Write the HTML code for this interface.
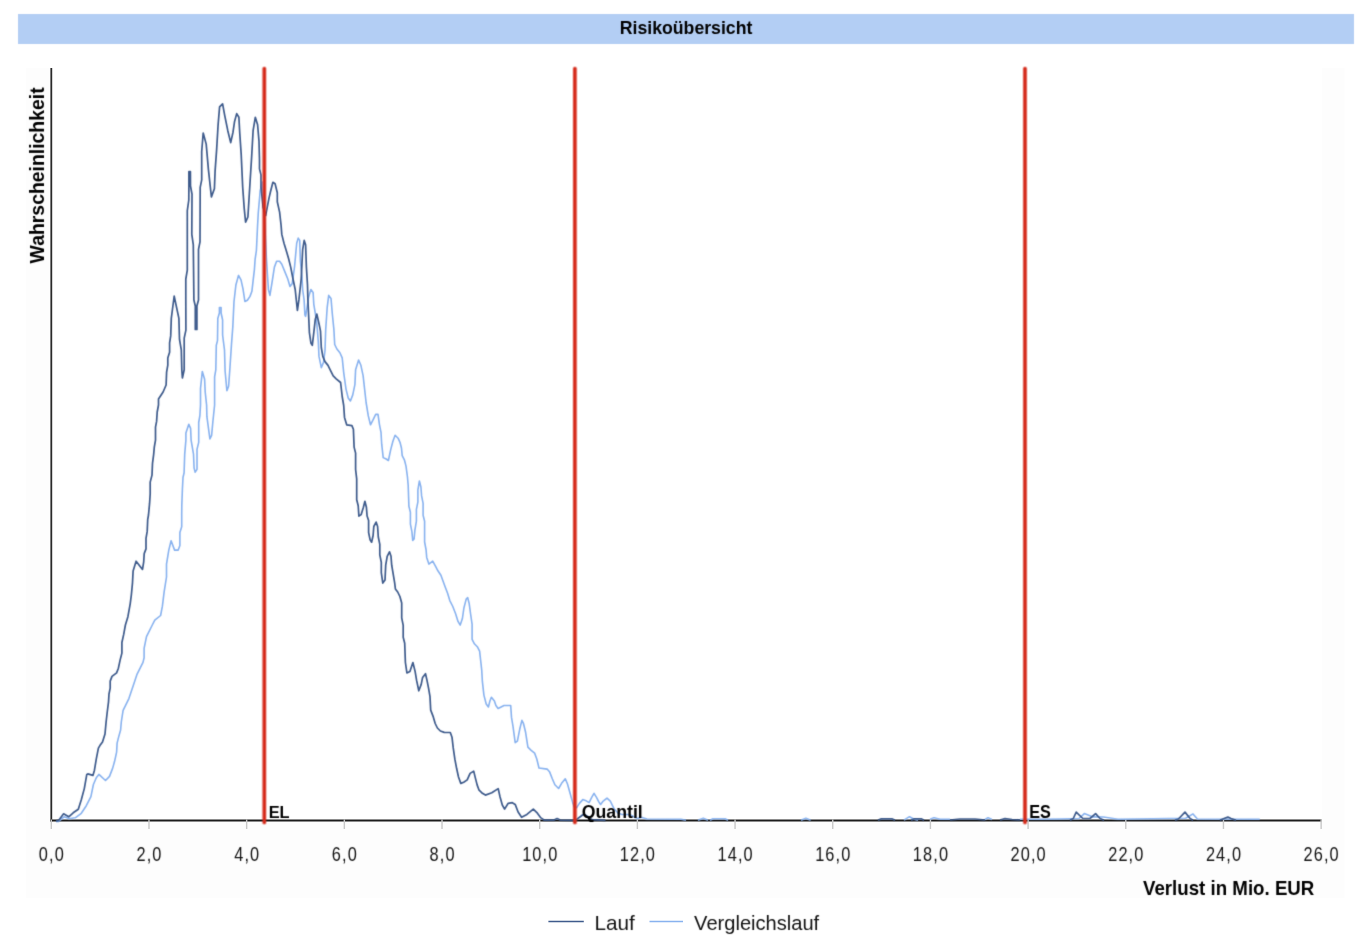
<!DOCTYPE html>
<html><head><meta charset="utf-8"><title>Risikoübersicht</title>
<style>
html,body{margin:0;padding:0;background:#fff;}
body{width:1364px;height:941px;overflow:hidden;font-family:"Liberation Sans",sans-serif;}
svg{display:block;}
svg text{font-family:"Liberation Sans",sans-serif;}
</style></head><body>
<svg width="1364" height="941" viewBox="0 0 1364 941">
<defs><filter id="soft" filterUnits="userSpaceOnUse" x="0" y="0" width="1364" height="941" color-interpolation-filters="sRGB"><feConvolveMatrix order="3" kernelMatrix="1 2 1 2 4 2 1 2 1" divisor="16" edgeMode="none"/></filter>
<filter id="mild" filterUnits="userSpaceOnUse" x="0" y="0" width="1364" height="941" color-interpolation-filters="sRGB"><feConvolveMatrix order="3" kernelMatrix="1 6 1 6 36 6 1 6 1" divisor="64" edgeMode="none"/></filter></defs>
<g filter="url(#mild)">
<rect x="0" y="0" width="1364" height="941" fill="#fff"/>
<rect x="26.2" y="68" width="1318.4" height="830" fill="#fdfdfd"/>
<rect x="51.3" y="68" width="1271" height="753" fill="#fff"/>
<rect x="18" y="14" width="1336" height="30" fill="#b3cef4"/>
<text x="619.7" y="33.8" font-size="17.7" font-weight="bold" fill="#000">Risikoübersicht</text>
<text transform="translate(44,263.4) rotate(-90)" font-size="19.4" font-weight="bold" fill="#000">Wahrscheinlichkeit</text>
<text transform="translate(51.85,861.4) scale(0.86,1.075)" text-anchor="middle" font-size="19" letter-spacing="1.3" fill="#111">0,0</text>
<text transform="translate(149.53,861.4) scale(0.86,1.075)" text-anchor="middle" font-size="19" letter-spacing="1.3" fill="#111">2,0</text>
<text transform="translate(247.21,861.4) scale(0.86,1.075)" text-anchor="middle" font-size="19" letter-spacing="1.3" fill="#111">4,0</text>
<text transform="translate(344.89,861.4) scale(0.86,1.075)" text-anchor="middle" font-size="19" letter-spacing="1.3" fill="#111">6,0</text>
<text transform="translate(442.57,861.4) scale(0.86,1.075)" text-anchor="middle" font-size="19" letter-spacing="1.3" fill="#111">8,0</text>
<text transform="translate(540.25,861.4) scale(0.86,1.075)" text-anchor="middle" font-size="19" letter-spacing="1.3" fill="#111">10,0</text>
<text transform="translate(637.93,861.4) scale(0.86,1.075)" text-anchor="middle" font-size="19" letter-spacing="1.3" fill="#111">12,0</text>
<text transform="translate(735.61,861.4) scale(0.86,1.075)" text-anchor="middle" font-size="19" letter-spacing="1.3" fill="#111">14,0</text>
<text transform="translate(833.29,861.4) scale(0.86,1.075)" text-anchor="middle" font-size="19" letter-spacing="1.3" fill="#111">16,0</text>
<text transform="translate(930.97,861.4) scale(0.86,1.075)" text-anchor="middle" font-size="19" letter-spacing="1.3" fill="#111">18,0</text>
<text transform="translate(1028.65,861.4) scale(0.86,1.075)" text-anchor="middle" font-size="19" letter-spacing="1.3" fill="#111">20,0</text>
<text transform="translate(1126.33,861.4) scale(0.86,1.075)" text-anchor="middle" font-size="19" letter-spacing="1.3" fill="#111">22,0</text>
<text transform="translate(1224.01,861.4) scale(0.86,1.075)" text-anchor="middle" font-size="19" letter-spacing="1.3" fill="#111">24,0</text>
<text transform="translate(1321.69,861.4) scale(0.86,1.075)" text-anchor="middle" font-size="19" letter-spacing="1.3" fill="#111">26,0</text>
<text transform="translate(1143,894.6) scale(1,1.08)" font-size="18.7" font-weight="bold" fill="#000">Verlust in Mio. EUR</text>
<text x="594.4" y="930.3" font-size="20.7" fill="#111">Lauf</text>
<text x="694.1" y="929.9" font-size="20.1" fill="#111">Vergleichslauf</text>
</g>
<line x1="51.3" y1="68" x2="51.3" y2="821.5" stroke="#2a2a2a" stroke-width="1.8"/>
<line x1="50.4" y1="820.5" x2="1321.6" y2="820.5" stroke="#1c1c1c" stroke-width="2"/>
<line x1="51.30" y1="819.5" x2="51.30" y2="829" stroke="#c8c8c8" stroke-width="1.4"/>
<line x1="148.98" y1="819.5" x2="148.98" y2="829" stroke="#c8c8c8" stroke-width="1.4"/>
<line x1="246.66" y1="819.5" x2="246.66" y2="829" stroke="#c8c8c8" stroke-width="1.4"/>
<line x1="344.34" y1="819.5" x2="344.34" y2="829" stroke="#c8c8c8" stroke-width="1.4"/>
<line x1="442.02" y1="819.5" x2="442.02" y2="829" stroke="#c8c8c8" stroke-width="1.4"/>
<line x1="539.70" y1="819.5" x2="539.70" y2="829" stroke="#c8c8c8" stroke-width="1.4"/>
<line x1="637.38" y1="819.5" x2="637.38" y2="829" stroke="#c8c8c8" stroke-width="1.4"/>
<line x1="735.06" y1="819.5" x2="735.06" y2="829" stroke="#c8c8c8" stroke-width="1.4"/>
<line x1="832.74" y1="819.5" x2="832.74" y2="829" stroke="#c8c8c8" stroke-width="1.4"/>
<line x1="930.42" y1="819.5" x2="930.42" y2="829" stroke="#c8c8c8" stroke-width="1.4"/>
<line x1="1028.10" y1="819.5" x2="1028.10" y2="829" stroke="#c8c8c8" stroke-width="1.4"/>
<line x1="1125.78" y1="819.5" x2="1125.78" y2="829" stroke="#c8c8c8" stroke-width="1.4"/>
<line x1="1223.46" y1="819.5" x2="1223.46" y2="829" stroke="#c8c8c8" stroke-width="1.4"/>
<line x1="1321.14" y1="819.5" x2="1321.14" y2="829" stroke="#c8c8c8" stroke-width="1.4"/>
<g filter="url(#mild)">
<polyline points="56.0,821.5 58.6,821.4 64.1,816.8 69.2,818.8 75.2,817.8 81.3,813.3 86.3,805.7 90.9,796.6 93.4,784.5 96.4,777.5 98.9,774.4 105.5,780.5 109.5,776.4 112.6,768.4 114.6,761.3 116.6,752.2 117.1,743.1 118.6,737.1 120.6,730.0 121.3,722.0 123.1,710.3 128.9,698.6 134.8,681.1 137.1,674.1 143.0,662.4 144.1,657.7 144.1,648.4 146.5,636.7 152.3,625.0 154.8,620.2 160.6,615.5 162.4,606.2 164.1,592.2 166.5,577.0 166.5,564.1 168.8,550.1 171.1,540.7 174.6,550.1 178.2,550.1 179.9,545.4 179.9,532.5 181.7,526.7 181.7,515.0 181.8,505.5 182.4,489.2 183.0,477.5 184.1,472.8 184.7,454.1 185.9,440.1 185.9,433.1 188.8,424.3 190.6,428.4 191.1,440.1 193.5,454.1 194.1,468.1 195.2,472.2 197.0,469.3 197.0,449.4 198.7,442.4 198.7,422.5 199.9,415.5 200.5,405.0 200.5,388.5 202.3,371.6 204.6,379.2 205.2,392.0 206.6,405.0 206.9,416.7 209.9,438.9 211.6,435.4 212.8,422.5 214.6,405.0 214.6,376.8 215.8,369.8 216.3,345.3 217.5,340.6 217.8,318.4 219.4,313.0 219.4,307.5 221.1,307.5 221.1,313.0 222.6,320.0 222.6,335.0 224.5,350.0 225.1,371.0 226.9,390.8 228.6,386.2 229.8,369.8 231.5,344.1 232.8,327.0 234.0,301.5 235.9,285.0 238.5,275.4 241.0,279.8 243.0,288.8 244.9,301.5 247.4,300.3 250.0,296.4 251.9,291.3 253.2,279.8 254.4,269.6 255.1,259.4 256.4,250.5 257.0,237.8 257.6,225.0 258.3,212.6 260.2,190.7 262.5,182.0 265.0,230.0 266.4,258.4 268.4,289.5 269.9,295.4 272.1,282.0 274.4,267.1 276.6,261.2 279.6,261.2 281.8,264.2 284.8,271.6 287.8,279.0 290.0,286.5 292.2,283.5 294.5,267.1 296.7,243.3 298.2,238.1 299.7,240.4 300.4,261.2 301.9,276.1 302.7,290.0 304.1,299.9 304.9,314.8 305.6,316.3 307.1,307.3 308.6,296.9 310.9,289.5 313.1,292.4 313.8,304.3 315.3,313.3 316.8,323.7 318.3,341.5 319.0,356.4 321.3,367.6 323.5,362.4 325.0,350.5 325.7,329.6 326.5,317.7 327.2,307.3 328.7,295.4 331.0,298.4 332.4,314.8 333.9,329.6 334.7,344.5 336.9,349.0 339.9,352.7 342.2,357.9 343.7,372.7 346.0,389.1 348.2,398.0 350.4,401.0 352.7,395.1 354.9,384.6 355.6,369.8 358.6,360.1 360.9,365.3 363.1,375.7 364.6,389.1 366.1,402.5 368.3,415.9 370.5,424.8 372.8,420.4 375.7,414.4 378.0,414.4 379.5,424.8 381.0,432.3 381.7,444.2 383.2,457.6 386.2,459.0 388.4,460.5 390.6,450.1 392.9,441.2 395.1,435.2 398.1,438.2 400.0,442.3 401.5,448.3 402.2,455.7 404.5,460.2 406.0,466.1 407.4,476.5 408.2,485.5 408.9,506.3 410.4,512.3 410.4,524.2 411.9,531.6 412.7,540.5 414.1,539.0 414.9,530.1 416.4,521.2 416.4,509.3 417.9,501.8 417.9,489.9 419.4,481.0 420.9,487.0 421.6,495.9 423.1,503.3 423.1,515.2 424.6,521.2 424.6,542.0 426.1,550.0 426.7,557.4 428.9,564.1 432.7,561.2 435.6,566.4 437.9,570.8 440.9,575.3 443.1,581.3 445.3,587.2 447.6,593.2 449.8,600.6 452.8,606.5 455.7,614.0 458.0,621.4 460.2,625.1 462.4,618.5 463.9,608.0 466.2,599.1 467.7,597.6 469.2,603.6 470.6,614.0 472.1,624.4 472.1,639.3 474.4,643.8 477.3,646.7 479.6,651.2 480.6,660.0 481.7,669.8 482.4,681.7 483.9,695.1 486.2,704.0 488.4,707.0 489.9,701.0 491.4,697.3 494.4,701.0 495.9,705.5 498.1,708.5 501.1,707.0 504.0,705.5 510.7,705.5 511.5,717.4 513.0,726.3 515.2,742.7 517.4,741.2 519.7,729.3 521.9,720.4 523.4,723.3 525.6,732.3 527.9,747.1 530.9,750.1 534.6,753.1 536.8,759.0 539.0,768.0 547.1,769.1 549.7,772.1 552.3,778.8 554.9,784.8 558.6,788.5 561.6,783.3 565.3,778.8 567.5,784.0 569.8,792.2 572.7,802.6 574.6,807.1 576.5,807.8 579.4,803.4 582.8,799.6 585.4,800.4 589.1,802.6 591.7,797.4 594.0,793.3 596.5,797.4 598.8,801.9 600.6,804.5 603.2,801.1 607.0,798.2 610.3,801.1 612.5,805.6 614.4,809.3 618.1,813.0 621.8,814.5 629.3,814.5 633.8,816.8 637.5,818.6 641.0,817.3 647.0,819.0 681.0,819.2 686.0,820.2" fill="none" stroke="#88b2ef" stroke-width="1.6" stroke-linejoin="round"/>
<polyline points="698.0,820.2 703.3,818.3 708.0,820.2" fill="none" stroke="#88b2ef" stroke-width="1.6" stroke-linejoin="round"/>
<polyline points="710.0,820.2 713.0,818.7 725.0,818.7 728.0,820.2" fill="none" stroke="#88b2ef" stroke-width="1.6" stroke-linejoin="round"/>
<polyline points="801.0,820.2 805.9,818.2 810.6,820.2" fill="none" stroke="#88b2ef" stroke-width="1.6" stroke-linejoin="round"/>
<polyline points="904.0,820.2 909.5,816.7 914.0,819.3 918.0,820.2" fill="none" stroke="#88b2ef" stroke-width="1.6" stroke-linejoin="round"/>
<polyline points="930.0,819.3 934.0,817.8 940.0,819.3 950.0,819.3" fill="none" stroke="#88b2ef" stroke-width="1.6" stroke-linejoin="round"/>
<polyline points="985.0,819.5 988.0,817.8 992.0,819.5" fill="none" stroke="#88b2ef" stroke-width="1.6" stroke-linejoin="round"/>
<polyline points="1020.0,819.3 1040.0,819.3 1060.0,819.0 1079.1,818.5 1084.3,813.6 1093.0,816.9 1103.3,817.0 1118.0,819.3 1185.7,818.2 1193.0,813.9 1197.4,819.0 1259.8,819.2" fill="none" stroke="#88b2ef" stroke-width="1.6" stroke-linejoin="round"/>
<polyline points="56.0,821.0 58.6,820.4 63.6,813.8 68.7,816.8 73.2,812.8 78.3,809.3 81.3,799.7 84.3,788.6 86.8,774.4 87.8,773.9 92.9,775.4 94.4,770.4 96.4,758.3 98.4,748.2 99.9,745.6 102.5,742.1 105.0,734.0 106.1,722.0 107.3,711.5 108.5,702.1 109.0,694.0 110.2,688.1 110.2,681.1 112.0,676.4 116.6,672.9 118.4,668.2 120.1,660.1 121.9,653.1 121.9,642.5 123.7,634.4 125.4,625.0 127.9,616.7 130.2,603.8 131.4,594.5 132.5,582.8 133.1,571.1 136.1,561.2 142.5,569.4 143.7,561.8 144.2,553.6 146.0,548.9 146.0,538.4 147.2,531.4 147.7,519.7 148.5,515.0 149.6,503.2 150.2,493.8 150.2,482.1 152.0,475.1 152.5,463.4 153.7,454.1 154.3,447.1 155.5,440.1 155.5,427.2 156.6,421.4 157.2,412.0 158.5,405.0 158.5,399.0 163.1,392.0 166.1,385.0 166.6,372.1 167.8,365.1 167.8,358.1 169.6,352.3 169.6,342.9 170.7,335.9 171.3,318.4 172.5,309.0 174.2,296.2 178.9,318.4 179.5,339.4 181.3,349.9 181.8,369.8 182.4,378.0 184.2,369.8 184.2,338.2 185.9,330.1 185.8,300.0 185.8,279.0 187.3,270.1 187.3,210.6 188.8,200.0 188.9,186.0 188.9,171.5 190.4,171.5 190.5,186.0 192.0,194.2 191.8,234.4 193.3,244.8 193.9,300.0 195.3,306.0 195.3,329.5 196.9,329.5 196.9,306.0 198.5,300.0 198.5,249.3 200.0,241.8 200.2,187.3 201.7,179.8 201.7,151.5 203.2,133.0 206.2,144.1 208.4,169.4 211.4,196.9 214.4,188.8 215.1,170.9 216.6,150.1 218.1,124.8 219.6,106.9 222.6,103.9 224.8,115.8 227.8,130.7 230.7,142.6 233.0,132.2 234.5,121.8 236.7,113.6 238.9,117.3 239.7,132.2 241.2,154.5 242.7,187.3 244.2,208.1 245.6,222.2 247.9,217.0 250.1,181.3 251.6,157.5 253.1,130.7 255.3,117.3 257.6,124.8 259.0,141.1 259.5,160.0 259.5,168.9 261.0,174.9 261.0,186.8 263.2,207.6 265.6,215.5 269.1,197.6 270.6,191.3 272.9,182.3 275.1,183.8 277.3,192.7 277.3,201.7 279.6,212.1 281.1,225.5 281.8,234.4 284.0,243.3 286.3,250.8 288.5,258.2 290.7,267.1 293.0,279.0 295.2,289.5 296.3,300.0 297.4,310.3 298.9,299.9 301.2,279.0 302.7,249.3 304.2,240.4 305.6,244.8 306.4,267.1 307.5,285.0 307.9,299.9 308.6,314.8 309.4,332.6 310.9,343.0 312.3,345.3 313.8,332.6 315.3,319.2 316.8,314.0 319.0,323.7 320.5,331.1 321.3,347.5 322.8,356.4 325.0,361.6 328.0,365.4 330.2,369.8 333.2,375.8 336.2,378.8 340.6,382.5 342.2,396.5 343.7,405.5 344.5,417.4 346.7,424.8 351.9,425.6 353.4,429.3 354.1,447.1 355.6,453.1 355.6,469.5 356.7,478.9 356.7,499.8 358.2,505.7 358.9,516.1 361.2,514.6 363.4,507.2 364.9,501.3 366.4,507.2 367.1,516.1 368.6,520.6 368.6,532.5 370.1,539.9 371.6,542.2 373.1,535.5 373.8,526.5 376.1,522.1 377.6,526.5 378.3,537.0 379.8,544.4 379.8,554.8 381.3,562.3 381.3,572.7 382.8,583.1 385.0,580.1 385.7,565.2 387.2,556.3 389.5,551.8 391.0,556.3 391.7,565.2 393.2,574.2 394.7,583.1 395.4,589.0 397.7,592.0 399.9,596.5 401.7,603.0 401.7,617.9 403.2,625.3 403.2,637.2 404.7,643.2 405.4,662.5 406.9,672.9 409.9,671.4 412.9,662.5 415.1,671.4 416.6,680.4 418.8,690.8 421.1,684.8 422.6,677.4 425.5,673.7 427.0,680.4 428.5,687.8 430.0,696.7 430.7,710.1 433.0,716.1 435.2,723.5 437.4,728.0 440.4,731.0 444.2,732.4 450.3,732.5 452.0,737.2 453.2,747.7 454.9,759.4 456.7,768.8 458.5,777.0 460.8,783.4 463.7,782.2 467.2,779.9 470.1,773.4 473.7,771.1 475.4,778.1 477.2,785.1 478.9,789.8 482.4,793.3 485.4,795.1 491.8,792.7 498.2,788.6 500.0,796.8 502.3,805.0 504.6,809.1 508.2,803.3 512.3,802.7 515.2,804.4 518.1,812.0 521.6,817.3 526.9,814.4 533.3,809.1 537.4,813.2 540.9,817.9 544.4,820.2 554.1,820.1 557.1,818.6 560.1,820.1 575.0,820.3 577.2,819.0 580.2,816.8 583.2,814.5 586.0,815.5 592.1,819.7 605.5,820.3" fill="none" stroke="#3e5b8c" stroke-width="1.7" stroke-linejoin="round"/>
<polyline points="878.0,820.3 881.3,818.9 892.3,818.9 895.0,820.3" fill="none" stroke="#3e5b8c" stroke-width="1.7" stroke-linejoin="round"/>
<polyline points="911.0,820.3 914.3,818.9 921.6,818.9 924.0,820.3" fill="none" stroke="#3e5b8c" stroke-width="1.7" stroke-linejoin="round"/>
<polyline points="1070.0,820.3 1073.3,818.5 1076.2,812.1 1082.8,818.5 1090.0,818.5 1095.6,813.6 1100.0,818.5 1104.0,820.3" fill="none" stroke="#3e5b8c" stroke-width="1.7" stroke-linejoin="round"/>
<polyline points="1175.0,820.3 1178.4,819.0 1185.0,812.1 1190.1,818.5 1193.0,820.3" fill="none" stroke="#3e5b8c" stroke-width="1.7" stroke-linejoin="round"/>
<polyline points="1220.0,820.3 1224.0,818.5 1227.9,817.1 1231.0,818.6 1236.0,820.3" fill="none" stroke="#3e5b8c" stroke-width="1.7" stroke-linejoin="round"/>
<polyline points="950.0,820.0 960.0,819.0 975.0,819.0 985.0,820.0" fill="none" stroke="#3e5b8c" stroke-width="1.7" stroke-linejoin="round"/>
<polyline points="1000.0,820.0 1005.0,818.6 1012.0,819.5 1020.0,820.0" fill="none" stroke="#3e5b8c" stroke-width="1.7" stroke-linejoin="round"/>
</g>
<line x1="548.4" y1="921.5" x2="583.8" y2="921.5" stroke="#3e5b8c" stroke-width="1.7"/>
<line x1="649.5" y1="921.5" x2="683" y2="921.5" stroke="#88b2ef" stroke-width="1.6"/>
<g filter="url(#soft)">
<line x1="264.3" y1="68.5" x2="264.3" y2="822.5" stroke="#d52b1b" stroke-width="3.7" stroke-linecap="round"/>
<line x1="574.9" y1="68.5" x2="574.9" y2="822.5" stroke="#d52b1b" stroke-width="3.7" stroke-linecap="round"/>
<line x1="1025.0" y1="68.5" x2="1025.0" y2="822.5" stroke="#d52b1b" stroke-width="3.7" stroke-linecap="round"/>
</g>
<g filter="url(#mild)">
<text transform="translate(268.7,817.9) scale(1,1.06)" font-size="16.4" font-weight="bold" fill="#000">EL</text>
<text transform="translate(581.8,817.8) scale(1,1.0)" font-size="17.7" font-weight="bold" fill="#000">Quantil</text>
<text transform="translate(1029.3,818.1) scale(1,1.11)" font-size="16.2" font-weight="bold" fill="#000">ES</text>
</g>
</svg>
</body></html>
